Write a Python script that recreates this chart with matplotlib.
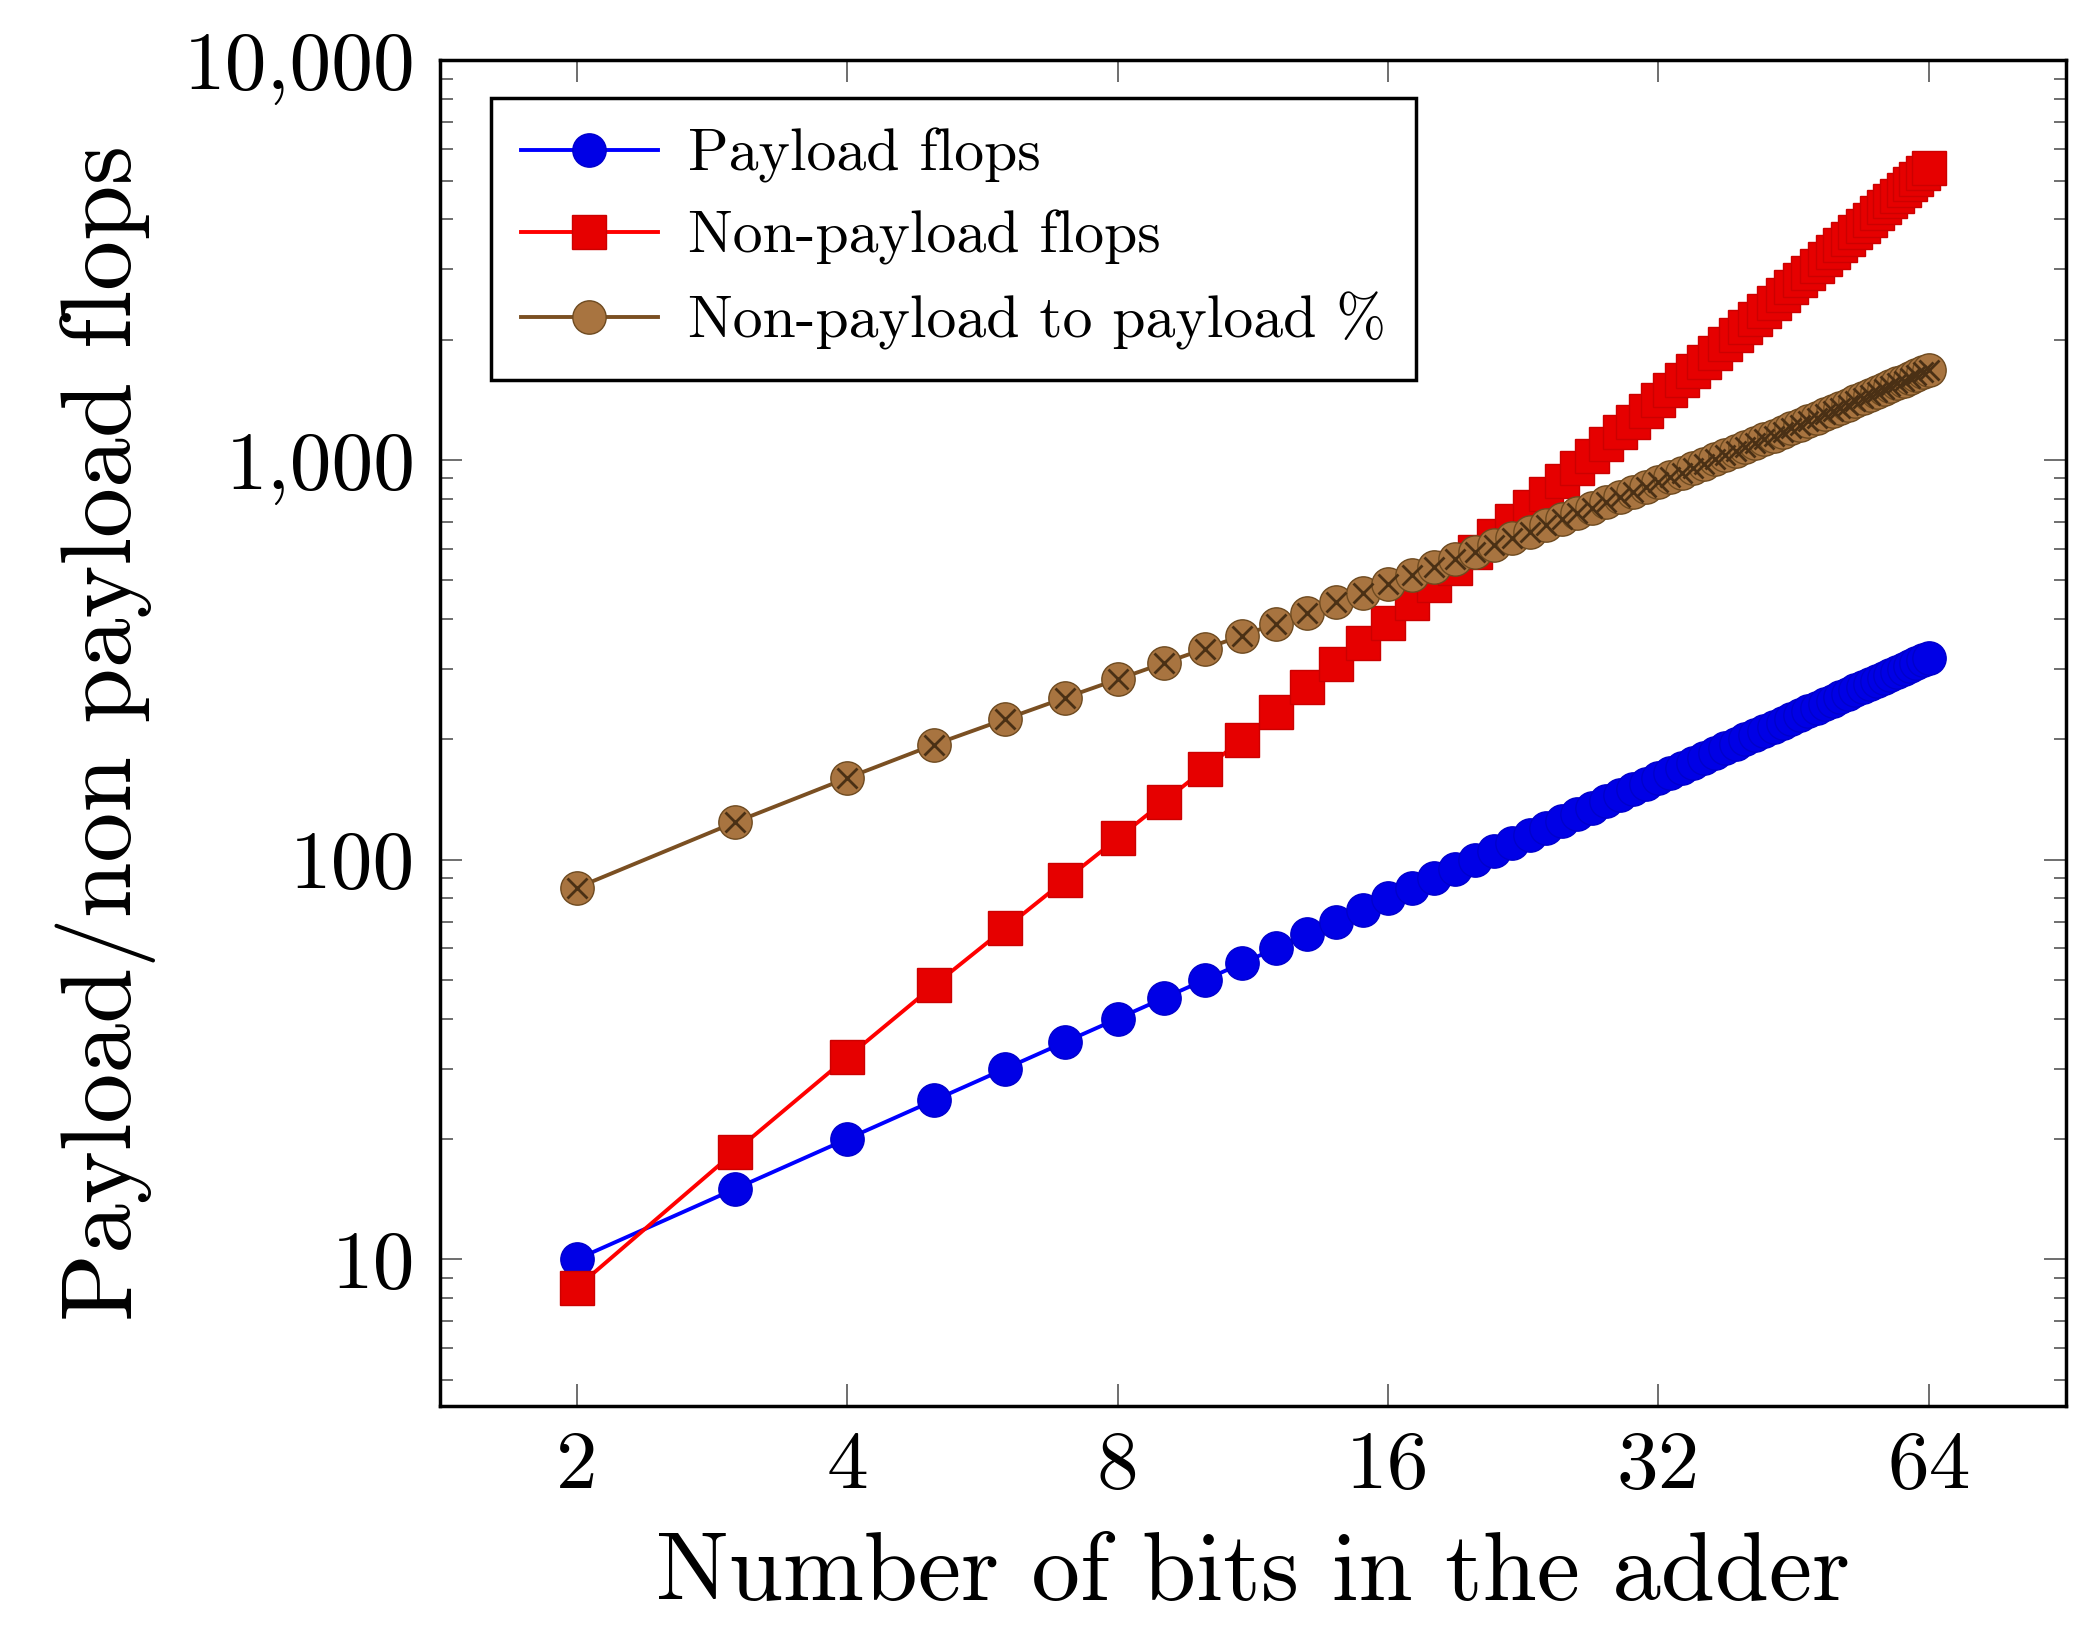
import matplotlib
matplotlib.use("Agg")
import matplotlib.pyplot as plt
from matplotlib.ticker import FixedLocator, LogLocator, NullFormatter, FixedFormatter

plt.rcParams["font.family"] = "cmr10"
plt.rcParams["mathtext.fontset"] = "cm"
plt.rcParams["axes.unicode_minus"] = False

bits = list(range(2, 65))
payload = [5 * n for n in bits]
non_payload = [8.5, 18.6, 32, 48.5, 67.4, 89, 113, 139.5, 168.4, 199.8, 233.5, 269.6, 308, 349,
               392, 438, 486, 536, 589, 644, 702, 761, 824, 888, 956, 1025, 1097, 1172, 1248,
               1328, 1410, 1494, 1581, 1670, 1762, 1856, 1953, 2052, 2154, 2258, 2365, 2475,
               2587, 2702, 2819, 2939, 3061, 3187, 3314, 3445, 3578, 3714, 3853, 3994, 4138,
               4285, 4434, 4586, 4741, 4899, 5060, 5223, 5388]
ratio_pct = [100 * a / b for a, b in zip(non_payload, payload)]

x_ticks = [2, 4, 8, 16, 32, 64]
y_ticks = [10, 100, 1000, 10000]
y_labels = ["10", "100", "1,000", "10,000"]

fig = plt.figure(figsize=(20.87, 16.29), dpi=100)
ax = fig.add_axes([0.211, 0.137, 0.779, 0.826])

ax.plot(bits, payload, color="#0000ff", lw=2.8, marker="o", ms=24,
        mfc="#0000e6", mec="#0000cc", label="Payload flops")
ax.plot(bits, non_payload, color="#ff0000", lw=2.8, marker="s", ms=24,
        mfc="#e60000", mec="#cc0000", label="Non-payload flops")
ax.plot(bits, ratio_pct, color="#7a4f22", lw=2.8, marker="o", ms=24,
        mfc="#a87440", mec="#6e4a20", label="Non-payload to payload %")
ax.plot(bits, ratio_pct, ls="none", marker="x", ms=14, mew=2, color="#4a3015")

ax.set_xscale("log", base=2)
ax.set_yscale("log")
ax.set_xlim(1.41, 91)
ax.set_ylim(4.3, 10000)
ax.xaxis.set_major_locator(FixedLocator(x_ticks))
ax.xaxis.set_major_formatter(FixedFormatter([str(t) for t in x_ticks]))
ax.xaxis.set_minor_locator(FixedLocator([]))
ax.yaxis.set_major_locator(FixedLocator(y_ticks))
ax.yaxis.set_major_formatter(FixedFormatter(y_labels))
ax.yaxis.set_minor_locator(LogLocator(base=10, subs=range(2, 10)))
ax.yaxis.set_minor_formatter(NullFormatter())
ax.tick_params(which="both", direction="in", top=True, right=True, width=1.2, color="#555555")
ax.tick_params(which="major", length=16, labelsize=60, pad=18)
ax.tick_params(which="minor", length=9)
for s in ax.spines.values():
    s.set_linewidth(2.5)

ax.set_xlabel("Number of bits in the adder", fontsize=70, labelpad=20)
ax.set_ylabel("Payload/non payload flops", fontsize=72, labelpad=20)

leg = ax.legend(loc="upper left", fontsize=43, fancybox=False, framealpha=1,
                edgecolor="black", borderpad=0.5, handlelength=2.3, handletextpad=0.5,
                labelspacing=0.45, borderaxespad=0, bbox_to_anchor=(0.031, 0.972))
leg.get_frame().set_linewidth(2.5)

fig.savefig("out.png", dpi=100)
